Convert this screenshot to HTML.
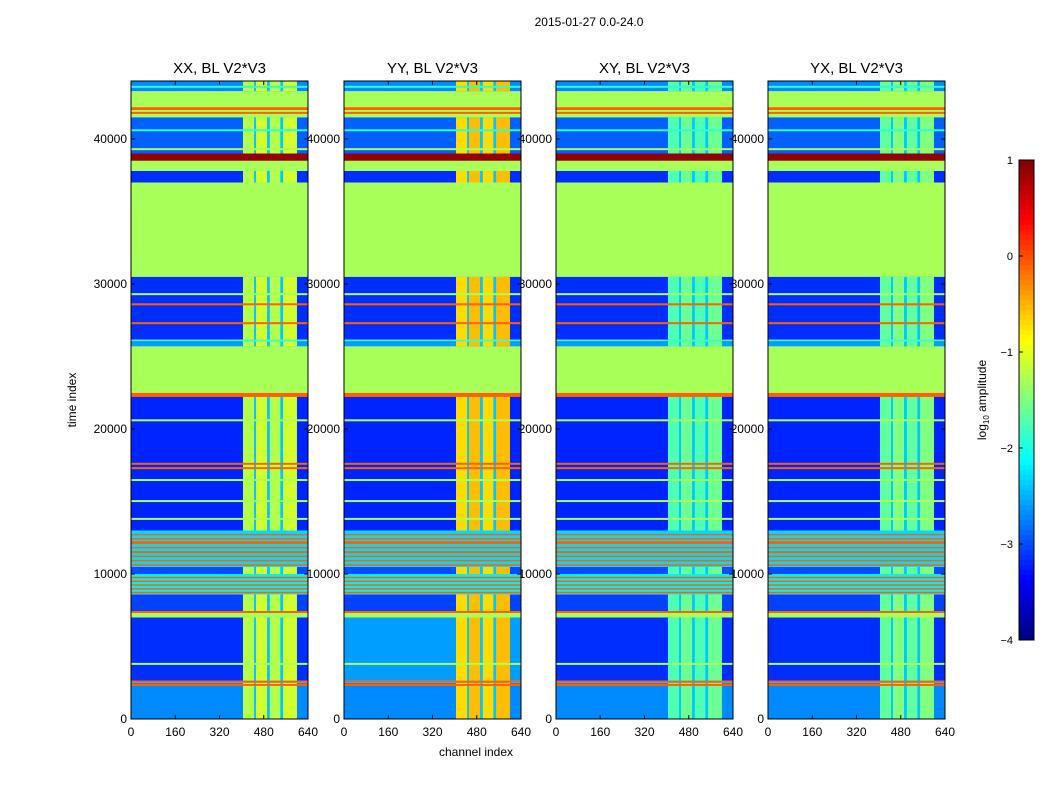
<!DOCTYPE html>
<html><head><meta charset="utf-8"><style>
body{margin:0;background:#fff;}
svg{display:block;font-family:"Liberation Sans",sans-serif;}
</style></head><body>
<svg id="fig" width="1050" height="800" viewBox="0 0 1050 800">
<text x="589" y="26" font-size="12" text-anchor="middle">2015-01-27 0.0-24.0</text>
<g id="labels"></g>
<g id="panels"></g>
<g id="cbar"></g>
<text x="476" y="756" font-size="12" text-anchor="middle">channel index</text>
<text transform="translate(76,400) rotate(-90)" font-size="12" text-anchor="middle">time index</text>
<text transform="translate(986,400) rotate(-90)" font-size="12" text-anchor="middle">log<tspan font-size="8" dy="3">10</tspan><tspan dy="-3"> amplitude</tspan></text>
</svg>
<script>
const panelTitles=["XX, BL V2*V3","YY, BL V2*V3","XY, BL V2*V3","YX, BL V2*V3"];
const panelLeft=[131,344,556,768];
const xTicks=[0,160,320,480,640];
const yTicks=[0,10000,20000,30000,40000];
const cbTicks=[1,0,-1,-2,-3,-4];
// time bands
const bandStart=[0,2500,2650,7000,7400,8600,10000,10500,13000,22300,22500,25700,26000,30500,37000,37800,38500,39000,41500,42000,42200,43300];
const bandEnd  =[2500,2650,7000,7400,8600,10000,10500,13000,22300,22500,25700,26000,30500,37000,37800,38500,39000,41500,42000,42200,43300,44000];
const bandValue=[-2.7,-0.1,-3.15,-1.3,-3.05,-2.2,-3.0,-2.3,-3.2,-0.1,-1.3,-2.6,-3.15,-1.3,-3.15,-1.3,0.9,-2.9,-1.3,-0.1,-1.3,-2.7];
const bandRfi  =[1,0,1,0,1,0,1,0,1,0,0,1,1,0,1,0,0,1,0,0,0,1];
// RFI stripe channels
const stripeStart=[405,452,502,550];
const stripeEnd  =[445,492,540,600];
const rfiValue=[-1.25,-0.7,-1.75,-1.65];
// thin lines: time, value
const lineT=[22280,20600,17600,17300,16480,15030,13800,3800,7380,11500,12200,2350,28600,27300,26100,29300,41800,40600,39300,43600];
const lineV=[-0.1,-1.3,-0.1,-0.1,-1.3,-1.3,-1.3,-1.3,-0.1,-0.1,-0.1,-0.1,-0.1,-0.1,-1.8,-1.3,-0.1,-1.9,-1.3,-1.9];

const NS="http://www.w3.org/2000/svg";
const top0=81,bot0=719,pw=177;
function yS(t){return bot0-(t/44000)*(bot0-top0);}
function xS(c,i){return panelLeft[i]+c/640*pw;}
function jet(v){let n=(v+4)/5;n=Math.max(0,Math.min(1,n));
 const f=a=>Math.round(255*Math.max(0,Math.min(1,1.5-Math.abs(4*n-a))));
 return `rgb(${f(3)},${f(2)},${f(1)})`;}
function mk(tag,attrs,parent){const e=document.createElementNS(NS,tag);for(const k in attrs)e.setAttribute(k,attrs[k]);parent.appendChild(e);return e;}
const labels=document.getElementById('labels'),panels=document.getElementById('panels'),cbar=document.getElementById('cbar');
for(let i=0;i<4;i++){
 const L=panelLeft[i];
 for(const t of yTicks){const e=mk('text',{x:L-4,y:yS(t)+4,'font-size':12,'text-anchor':'end'},labels);e.textContent=t;
  
  }
 for(const c of xTicks){const e=mk('text',{x:xS(c,i),y:736,'font-size':12,'text-anchor':'middle'},labels);e.textContent=c;
  
  }
 const g=mk('g',{},panels);
 
 
 const tt=mk('text',{x:L+pw/2,y:73,'font-size':15,'text-anchor':'middle'},g);tt.textContent=panelTitles[i];
 
 
 for(let b=0;b<bandStart.length;b++){
  let v=bandValue[b];
  if(i===1&&b===2) v=-2.6;
  const y1=yS(bandEnd[b]),y2=yS(bandStart[b]);
  const r=mk('rect',{x:L,y:y1,width:pw,height:y2-y1,fill:jet(v)},g);
  
  
  if(bandRfi[b]){
   const xa=xS(stripeStart[0],i),xb=xS(stripeEnd[3],i);
   const bg=mk('rect',{x:xa,y:y1,width:xb-xa,height:y2-y1,fill:jet(-2.4)},g);
   
   
   for(let s=0;s<stripeStart.length;s++){
    const x1=xS(stripeStart[s],i),x2=xS(stripeEnd[s],i);
    const sr=mk('rect',{x:x1,y:y1,width:x2-x1,height:y2-y1,fill:jet(rfiValue[i]+(s%2?0.15:0))},g);
    
    
   }
  }
 }
 for(let k=0;k<lineT.length;k++){
  const ln=mk('rect',{x:L,y:yS(lineT[k])-1,width:pw,height:2,fill:jet(lineV[k])},g);
  
  
 }
 for(let t=8700;t<10000;t+=260){const d=mk('rect',{x:L,y:yS(t)-1,width:pw,height:1.5,fill:jet(-0.1)},g);
  
  }
 for(let t=10600;t<13000;t+=300){const d=mk('rect',{x:L,y:yS(t)-1,width:pw,height:1.5,fill:jet(-0.1)},g);
  
  }
 const fr=mk('rect',{x:L,y:top0,width:pw,height:bot0-top0,fill:'none',stroke:'#000','stroke-width':1},g);
 
 
 for(const t of yTicks){mk('line',{x1:L,x2:L+4,y1:yS(t),y2:yS(t),stroke:'#000'},g);mk('line',{x1:L+pw,x2:L+pw-4,y1:yS(t),y2:yS(t),stroke:'#000'},g);}
 for(const c of xTicks){mk('line',{x1:xS(c,i),x2:xS(c,i),y1:bot0,y2:bot0-4,stroke:'#000'},g);mk('line',{x1:xS(c,i),x2:xS(c,i),y1:top0,y2:top0+4,stroke:'#000'},g);}
}
const cbTop=160,cbBot=640,cbX=1019,cbW=15;
const cg=mk('g',{},cbar);


for(let k=0;k<96;k++){const v=1-5*k/96;mk('rect',{x:cbX,y:cbTop+k*5,width:cbW,height:5.5,fill:jet(v-0.026)},cg);}
mk('rect',{x:cbX,y:cbTop,width:cbW,height:cbBot-cbTop,fill:'none',stroke:'#000'},cg);
for(const v of cbTicks){const y=cbTop+(1-v)/5*(cbBot-cbTop);
 mk('line',{x1:cbX,x2:cbX+4,y1:y,y2:y,stroke:'#000'},cg);
 const e=mk('text',{x:1013,y:y+4,'font-size':11,'text-anchor':'end'},cg);e.textContent=(v<0?'\u2212':'')+Math.abs(v);
 
 }
</script>
</body></html>
